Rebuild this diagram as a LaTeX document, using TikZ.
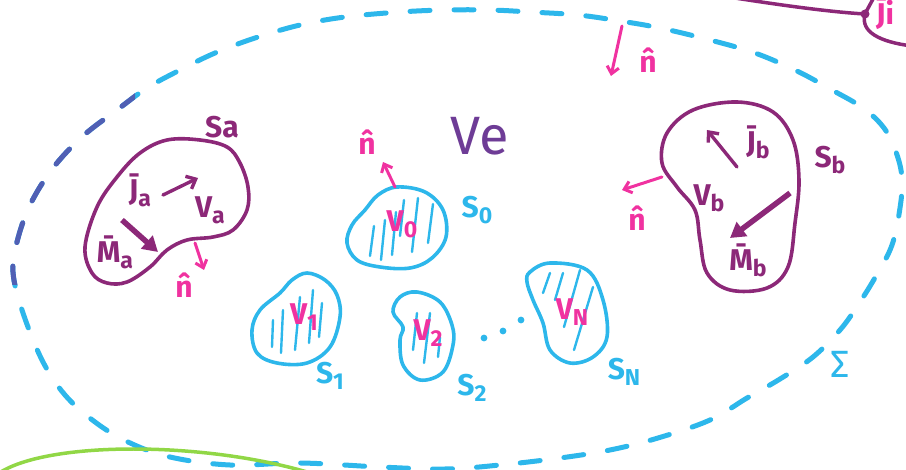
\documentclass[tikz,border=0pt]{standalone}
\usepackage{fontspec}
\setmainfont{Fira Sans}
\usetikzlibrary{arrows.meta}
\definecolor{cyanS}{RGB}{45,183,235}
\definecolor{pinkS}{RGB}{240,50,160}
\definecolor{purpS}{RGB}{140,40,120}
\definecolor{veC}{RGB}{110,60,150}
\definecolor{indigoS}{RGB}{80,95,180}
\definecolor{greenS}{RGB}{145,215,70}
\newcommand\lsub[1]{\raisebox{-6pt}{\fontsize{23}{23}\selectfont #1}}
\begin{document}
\begin{tikzpicture}[x=1pt,y=-1pt,
  blobP/.style={draw=purpS,line width=3.6pt,line join=round},
  blobC/.style={draw=cyanS,line width=3.6pt,line join=round},
  hatch/.style={cyanS,line width=2.4pt,line cap=round},
  lbl/.style={inner sep=0pt,font=\bfseries\fontsize{30}{32}\selectfont},
  purpT/.style={lbl,text=purpS},
  cyanT/.style={lbl,text=cyanS},
  pinkT/.style={lbl,text=pinkS},
  pinkA/.style={pinkS,line width=3pt,line cap=round,-{Straight Barb[length=7pt,width=12pt]}},
  purpA/.style={purpS,line width=3.4pt,line cap=round,-{Straight Barb[length=8pt,width=14pt]}},
  thickA/.style={purpS,line width=5.5pt,-{Triangle[length=15pt,width=17pt]}},
  sigma/.style={cyanS,line width=5pt,line cap=round,dash pattern=on 20pt off 24pt}
]
\useasboundingbox (0,0) rectangle (906,470);
% outer surface Sigma
\def\sigpath{plot[smooth cycle,tension=0.6] coordinates {
 (13,272) (17,242) (30,205) (53,168) (83,136) (117,110) (147,88) (180,70) (215,53) (255,38) (300,25) (345,17) (400,12) (445,10) (490,10) (530,12) (578,15) (620,21) (660,28) (710,40) (755,53) (797,71) (832,90) (863,108) (884,128) (896,152) (902,178) (900,208) (892,245) (876,276) (858,305) (840,330) (813,357) (780,379) (747,398) (710,420) (658,438) (610,450) (560,458) (500,465) (445,469) (380,467) (300,463) (230,465) (170,457) (128,442) (95,422) (65,395) (42,360) (22,310)}}
\draw[sigma] \sigpath;
\begin{scope}
  \clip (0,92) rectangle (135,285);
  \draw[sigma,indigoS] \sigpath;
\end{scope}
% green curve bottom-left
\draw[greenS,line width=3.5pt] (-5,476) .. controls (40,440) and (210,440) .. (320,476);
% top-right purple curve
\coordinate (jd) at (865,14);
\draw[purpS,line width=3.5pt] (735,-2) .. controls (780,5) and (830,12) .. (jd);
\draw[purpS,line width=3.5pt] (jd) .. controls (860,32) and (880,42) .. (912,46);
\draw[purpS,line width=3.5pt] (jd) .. controls (868,8) and (871,3) .. (874,-3);
\fill[purpS] (jd) circle (4.5pt);
\node[pinkT,anchor=west] (jtop) at (876,14) {\={J}i};
% Ve
\node[lbl,text=veC,font=\fontsize{54}{54}\selectfont] (ve) at (480,136) {Ve};
% top n-hat
\coordinate (nt1) at (622,26);
\coordinate (nt2) at (611,76);
\draw[pinkA] (nt1) -- (nt2);
\node[pinkT] (ntop) at (648,60) {\^{n}};
% ---------- Sa ----------
\draw[blobP] plot[smooth cycle,tension=0.6] coordinates {(85,247) (97,207) (117,177) (140,153) (167,140) (200,140) (227,147) (240,163) (248,187) (247,210) (233,230) (213,237) (187,240) (167,250) (150,267) (127,282) (107,283) (92,273)};
\node[purpT] (sa) at (222,127) {Sa};
\node[purpT] (ja) at (140,190) {\={J}\lsub{a}};
\coordinate (ja1) at (163,195);
\coordinate (ja2) at (198,178);
\draw[purpA] (ja1) -- (ja2);
\node[purpT] (va) at (210,210) {V\lsub{a}};
\node[purpT] (ma) at (115,252) {\={M}\lsub{a}};
\coordinate (ma1) at (122,220);
\coordinate (ma2) at (158,252);
\draw[thickA] (ma1) -- (ma2);
\coordinate (na1) at (195,243);
\coordinate (na2) at (204,270);
\draw[pinkA] (na1) -- (na2);
\node[pinkT] (na) at (184,285) {\^{n}};
% ---------- S0 ----------
\draw[blobC] plot[smooth cycle,tension=0.6] coordinates {(397,187) (425,192) (443,210) (446,237) (432,258) (410,268) (380,267) (357,260) (347,243) (352,225) (365,210) (378,195)};
\foreach \a/\b in {{(374,226)}/{(370,256)},{(385,220)}/{(381,260)},{(396,212)}/{(392,255)},{(404,200)}/{(400,236)},{(418,198)}/{(412,252)},{(433,204)}/{(428,243)}}
  \draw[hatch] \a -- \b;
\node[pinkT] (v0) at (402,224) {V\lsub{0}};
\node[cyanT] (s0) at (477,210) {S\lsub{0}};
\coordinate (n01) at (395,187);
\coordinate (n02) at (383,162);
\draw[pinkA] (n01) -- (n02);
\node[pinkT] (n0) at (367,142) {\^{n}};
% ---------- Sb ----------
\draw[blobP] plot[smooth cycle,tension=0.6] coordinates {(737,102) (773,112) (793,140) (799,180) (795,223) (788,267) (767,288) (730,290) (707,273) (700,240) (695,210) (677,187) (662,163) (667,133) (693,110)};
\node[purpT] (sb) at (830,160) {S\lsub{b}};
\node[purpT] (jb) at (758,142) {\={J}\lsub{b}};
\coordinate (jb1) at (737,167);
\coordinate (jb2) at (707,130);
\draw[purpA] (jb1) -- (jb2);
\node[purpT] (vb) at (709,198) {V\lsub{b}};
\node[purpT] (mb) at (748,260) {\={M}\lsub{b}};
\coordinate (mb1) at (790,193);
\coordinate (mb2) at (730,238);
\draw[thickA] (mb1) -- (mb2);
\coordinate (nb1) at (662,177);
\coordinate (nb2) at (622,190);
\draw[pinkA] (nb1) -- (nb2);
\node[pinkT] (nb) at (637,218) {\^{n}};
% ---------- S1 ----------
\draw[blobC] plot[smooth cycle,tension=0.6] coordinates {(307,273) (325,280) (337,295) (340,317) (330,347) (307,363) (277,363) (257,353) (252,330) (260,310) (280,293) (292,280)};
\foreach \a/\b in {{(273,320)}/{(272,347)},{(283,310)}/{(281,353)},{(300,297)}/{(295,350)},{(313,290)}/{(309,343)},{(322,303)}/{(319,337)}}
  \draw[hatch] \a -- \b;
\node[pinkT] (v1) at (304,317) {V\lsub{1}};
\node[cyanT] (s1) at (330,376) {S\lsub{1}};
% ---------- S2 ----------
\draw[blobC] plot[smooth cycle,tension=0.6] coordinates {(417,292) (440,302) (452,325) (453,345) (443,372) (420,380) (403,365) (400,340) (403,327) (393,312) (400,297)};
\foreach \a/\b in {{(417,313)}/{(413,350)},{(430,313)}/{(424,363)},{(440,337)}/{(438,357)}}
  \draw[hatch] \a -- \b;
\node[pinkT] (v2) at (428,333) {V\lsub{2}};
\node[cyanT] (s2) at (472,388) {S\lsub{2}};
% dots
\foreach \p [count=\i] in {(484,338),(503,331),(521,320)}
  \fill[cyanS] \p circle (3.4pt) coordinate (dot\i);
% ---------- SN ----------
\draw[blobC] plot[smooth cycle,tension=0.6] coordinates {(550,263) (587,270) (603,300) (607,337) (593,357) (570,363) (550,350) (543,323) (533,300) (527,282) (530,272)};
\foreach \a/\b in {{(550,273)}/{(543,293)},{(563,273)}/{(555,300)},{(580,270)}/{(564,327)},{(593,287)}/{(574,350)}}
  \draw[hatch] \a -- \b;
\node[pinkT] (vn) at (572,312) {V\lsub{N}};
\node[cyanT] (sn) at (624,372) {S\lsub{N}};
% Sigma label
\node[cyanT,font=\fontsize{38}{38}\selectfont] (sig) at (840,364) {Σ};
\end{tikzpicture}
\end{document}
